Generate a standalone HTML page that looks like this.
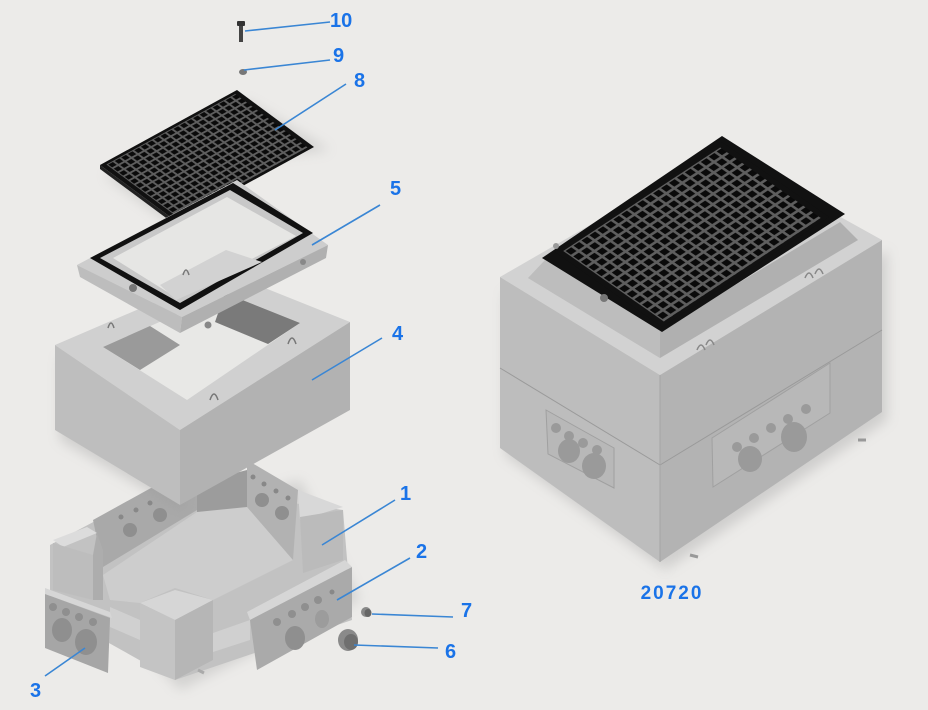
<!DOCTYPE html>
<html><head><meta charset="utf-8"><style>
html,body{margin:0;padding:0;background:#ecebe9;}
svg{display:block}
text{font-family:"Liberation Sans",Arial,sans-serif;font-weight:bold;fill:#1a73e8;}
</style></head><body>
<svg width="928" height="710" viewBox="0 0 928 710" xmlns="http://www.w3.org/2000/svg">
<defs>
<pattern id="g1" patternUnits="userSpaceOnUse" width="7.1428" height="4.7619" x="3" y="3">
<rect width="7.1428" height="4.7619" fill="#5e5e5e"/>
<rect x="1.1" y="0.7" width="5" height="3.4" fill="#0a0a0a"/>
</pattern>
<filter id="sh" x="-20%" y="-20%" width="140%" height="140%"><feGaussianBlur stdDeviation="6"/></filter>
</defs>
<rect width="928" height="710" fill="#ecebe9"/>

<!-- ============ RIGHT ASSEMBLED BOX ============ -->
<polygon points="505,290 665,390 665,570 505,455" fill="#999" opacity="0.35" filter="url(#sh)"/>
<polygon points="665,390 887,250 887,420 665,570" fill="#999" opacity="0.35" filter="url(#sh)"/>
<polygon points="500,277 720,150 882,240 660,375" fill="#d2d2d2"/>
<polygon points="500,277 660,375 660,562 500,448" fill="#bdbdbd"/>
<polygon points="660,375 882,240 882,412 660,562" fill="#b3b3b3"/>
<line x1="500" y1="368" x2="660" y2="465" stroke="#9a9a9a" stroke-width="1"/>
<line x1="660" y1="465" x2="882" y2="330" stroke="#9a9a9a" stroke-width="1"/>
<line x1="660" y1="375" x2="660" y2="562" stroke="#a5a5a5" stroke-width="1"/>
<polygon points="546,410 614,448 614,488 548,454" fill="#b8b8b8" stroke="#a0a0a0"/>
<circle cx="556" cy="428" r="5" fill="#9a9a9a"/><circle cx="569" cy="436" r="5" fill="#9a9a9a"/><circle cx="583" cy="443" r="5" fill="#9a9a9a"/><circle cx="597" cy="450" r="5" fill="#9a9a9a"/>
<ellipse cx="569" cy="451" rx="11" ry="12" fill="#9a9a9a"/><ellipse cx="594" cy="466" rx="12" ry="13" fill="#9a9a9a"/>
<polygon points="712,438 830,363 830,413 713,487" fill="#b8b8b8" stroke="#a0a0a0"/>
<circle cx="737" cy="447" r="5" fill="#9a9a9a"/><circle cx="754" cy="438" r="5" fill="#9a9a9a"/><circle cx="771" cy="428" r="5" fill="#9a9a9a"/><circle cx="788" cy="419" r="5" fill="#9a9a9a"/><circle cx="806" cy="409" r="5" fill="#9a9a9a"/>
<ellipse cx="750" cy="459" rx="12" ry="13" fill="#9a9a9a"/><ellipse cx="794" cy="437" rx="13" ry="15" fill="#9a9a9a"/>
<!-- collar -->
<polygon points="528,278 700,170 858,240 660,358" fill="#c6c6c6"/>
<polygon points="528,278 660,358 660,330 545,260" fill="#bdbdbd"/>
<polygon points="660,358 858,240 840,222 660,330" fill="#b0b0b0"/>
<polygon points="545,260 722,145 840,222 660,330" fill="#cfcfcf"/>
<polygon points="542,258 722,136 845,214 662,332" fill="#111"/>
<g transform="matrix(1.07,0.75,1.67,-1.10,555,252)">
<rect x="0" y="0" width="100" height="100" fill="#111"/>
<rect x="3" y="3" width="94" height="94" fill="url(#g1)"/>
</g>
<path d="M805,278 q4,-10 8,0 M815,274 q4,-10 8,0" stroke="#888" stroke-width="1.5" fill="none"/>
<path d="M697,350 q4,-10 8,0 M706,345 q4,-10 8,0" stroke="#888" stroke-width="1.5" fill="none"/>
<circle cx="604" cy="298" r="4" fill="#777"/>
<circle cx="556" cy="246" r="3" fill="#999"/>
<path d="M690,555 l8,2" stroke="#999" stroke-width="3"/><path d="M858,440 l8,0" stroke="#999" stroke-width="3"/>

<text x="672" y="599" font-size="19" text-anchor="middle" letter-spacing="2">20720</text>

<!-- ============ LEFT EXPLODED ============ -->
<rect x="239" y="25" width="4" height="17" fill="#444"/>
<rect x="237" y="21" width="8" height="5" rx="1" fill="#333"/>
<ellipse cx="243" cy="72" rx="4" ry="3" fill="#777"/>

<polygon points="104,175 182,232 245,100 330,150" fill="#999" opacity="0.3" filter="url(#sh)"/>
<polygon points="100,165 177,222 314,147 237,90" fill="#111"/>
<polygon points="100,165 177,222 177,226 100,169" fill="#222"/>
<g transform="matrix(0.77,0.57,1.37,-0.75,100,165)">
<rect x="3" y="3" width="94" height="94" fill="url(#g1)"/>
</g>

<!-- base 1 (drawn before box 4 so box overlaps) -->
<polygon points="60,560 180,690 360,600 300,480" fill="#999" opacity="0.3" filter="url(#sh)"/>
<polygon points="50,545 163,485 343,510 352,620 175,680 50,610" fill="#c2c2c2"/>
<polygon points="103,575 197,512 247,505 293,560 213,600 175,588 140,603 110,600" fill="#cdcdcd"/>
<polygon points="93,520 160,483 197,483 197,510 103,567" fill="#a9a9a9"/>
<polygon points="197,483 247,470 247,507 197,512" fill="#9c9c9c"/>
<polygon points="247,460 298,490 293,560 247,507" fill="#b2b2b2"/>
<circle cx="130" cy="530" r="7" fill="#8f8f8f"/><circle cx="160" cy="515" r="7" fill="#8f8f8f"/>
<circle cx="121" cy="517" r="2.5" fill="#888"/><circle cx="136" cy="510" r="2.5" fill="#888"/><circle cx="150" cy="503" r="2.5" fill="#888"/>
<circle cx="262" cy="500" r="7" fill="#8f8f8f"/><circle cx="282" cy="513" r="7" fill="#8f8f8f"/>
<circle cx="253" cy="477" r="2.5" fill="#888"/><circle cx="264" cy="484" r="2.5" fill="#888"/><circle cx="276" cy="491" r="2.5" fill="#888"/><circle cx="288" cy="498" r="2.5" fill="#888"/>
<!-- left wall end -->
<polygon points="53,540 87,527 97,533 63,547" fill="#dcdcdc"/>
<polygon points="53,543 93,555 93,600 53,590" fill="#bdbdbd"/>
<polygon points="93,555 97,533 103,550 103,600 93,600" fill="#adadad"/>
<!-- right wall end -->
<polygon points="298,490 343,507 300,520" fill="#d8d8d8"/>
<polygon points="300,517 343,510 343,560 303,573" fill="#bbb"/>
<polygon points="110,607 140,620 140,640 110,627" fill="#d0d0d0"/>
<polygon points="213,633 250,620 250,640 213,652" fill="#d0d0d0"/>
<!-- front corner -->
<polygon points="140,603 175,590 213,600 175,620" fill="#d6d6d6"/>
<polygon points="140,603 175,620 175,680 140,667" fill="#c4c4c4"/>
<polygon points="175,620 213,600 213,660 175,680" fill="#b6b6b6"/>
<!-- panel 2 -->
<polygon points="247,612 345,560 352,567 250,620" fill="#d6d6d6"/>
<polygon points="250,620 352,567 352,617 257,670" fill="#aaaaaa"/>
<circle cx="277" cy="622" r="4" fill="#8f8f8f"/><circle cx="292" cy="614" r="4" fill="#8f8f8f"/><circle cx="305" cy="607" r="4" fill="#8f8f8f"/><circle cx="318" cy="600" r="4" fill="#8f8f8f"/>
<ellipse cx="295" cy="638" rx="10" ry="12" fill="#8f8f8f"/><ellipse cx="322" cy="619" rx="7" ry="9" fill="#9c9c9c"/>
<circle cx="332" cy="592" r="2.5" fill="#888"/>
<!-- panel 3 -->
<polygon points="45,588 110,612 112,618 45,594" fill="#d6d6d6"/>
<polygon points="45,594 110,618 108,673 45,648" fill="#a6a6a6"/>
<circle cx="53" cy="607" r="4" fill="#8f8f8f"/><circle cx="66" cy="612" r="4" fill="#8f8f8f"/><circle cx="79" cy="617" r="4" fill="#8f8f8f"/><circle cx="93" cy="622" r="4" fill="#8f8f8f"/>
<ellipse cx="62" cy="630" rx="10" ry="12" fill="#8f8f8f"/><ellipse cx="86" cy="642" rx="11" ry="13" fill="#8f8f8f"/>
<path d="M198,670 l6,3" stroke="#aaa" stroke-width="3"/>

<!-- box 4 -->
<polygon points="60,355 185,438 185,512 60,440" fill="#999" opacity="0.35" filter="url(#sh)"/>
<polygon points="55,345 225,272 350,322 180,430" fill="#d0d0d0"/>
<polygon points="103,347 225,293 300,323 187,400" fill="#e8e8e6"/>
<polygon points="225,293 300,323 268,344 215,322" fill="#7a7a7a"/>
<polygon points="103,347 150,326 180,345 140,370" fill="#9a9a9a"/>
<polygon points="55,345 180,430 180,505 55,430" fill="#bebebe"/>
<polygon points="180,430 350,322 350,410 180,505" fill="#b2b2b2"/>
<path d="M108,328 q3,-10 6,0 M210,400 q4,-12 8,0 M288,344 q4,-12 8,0" stroke="#777" stroke-width="1.5" fill="none"/>

<!-- frame 5 -->
<polygon points="77,265 237,180 328,245 182,317" fill="#cdcdcd"/>
<polygon points="77,265 182,317 180,333 80,277" fill="#bdbdbd"/>
<polygon points="182,317 328,245 326,258 180,333" fill="#b0b0b0"/>
<polygon points="90,258 233,183 313,233 180,310" fill="#111"/>
<polygon points="100,258 230,190 303,233 180,303" fill="#c8c8c8"/>
<polygon points="113,258 227,197 296,236 177,298" fill="#e6e6e4"/>
<polygon points="160,285 226,250 262,262 176,300" fill="#d2d2d2"/>
<path d="M183,275 q3,-10 6,0" stroke="#777" stroke-width="1.5" fill="none"/>
<circle cx="133" cy="288" r="4" fill="#777"/>
<circle cx="208" cy="325" r="3.5" fill="#888"/>
<circle cx="303" cy="262" r="3" fill="#888"/>

<!-- caps -->
<ellipse cx="348" cy="640" rx="10" ry="11" fill="#8a8a8a"/>
<ellipse cx="351" cy="642" rx="7" ry="8" fill="#6f6f6f"/>
<ellipse cx="366" cy="612" rx="5" ry="5" fill="#888"/>
<ellipse cx="368" cy="613" rx="3.5" ry="4" fill="#666"/>

<g stroke="#3a86d4" stroke-width="1.6" fill="none">
<line x1="245" y1="31" x2="330" y2="22"/>
<line x1="244" y1="70" x2="330" y2="60"/>
<line x1="275" y1="130" x2="346" y2="84"/>
<line x1="312" y1="245" x2="380" y2="205"/>
<line x1="312" y1="380" x2="382" y2="338"/>
<line x1="322" y1="545" x2="395" y2="500"/>
<line x1="337" y1="600" x2="410" y2="558"/>
<line x1="372" y1="614" x2="453" y2="617"/>
<line x1="354" y1="645" x2="438" y2="648"/>
<line x1="45" y1="676" x2="85" y2="648"/>
</g>
<g font-size="20">
<text x="330" y="27">10</text>
<text x="333" y="62">9</text>
<text x="354" y="87">8</text>
<text x="390" y="195">5</text>
<text x="392" y="340">4</text>
<text x="400" y="500">1</text>
<text x="416" y="558">2</text>
<text x="461" y="617">7</text>
<text x="445" y="658">6</text>
<text x="30" y="697">3</text>
</g>
</svg>
</body></html>
